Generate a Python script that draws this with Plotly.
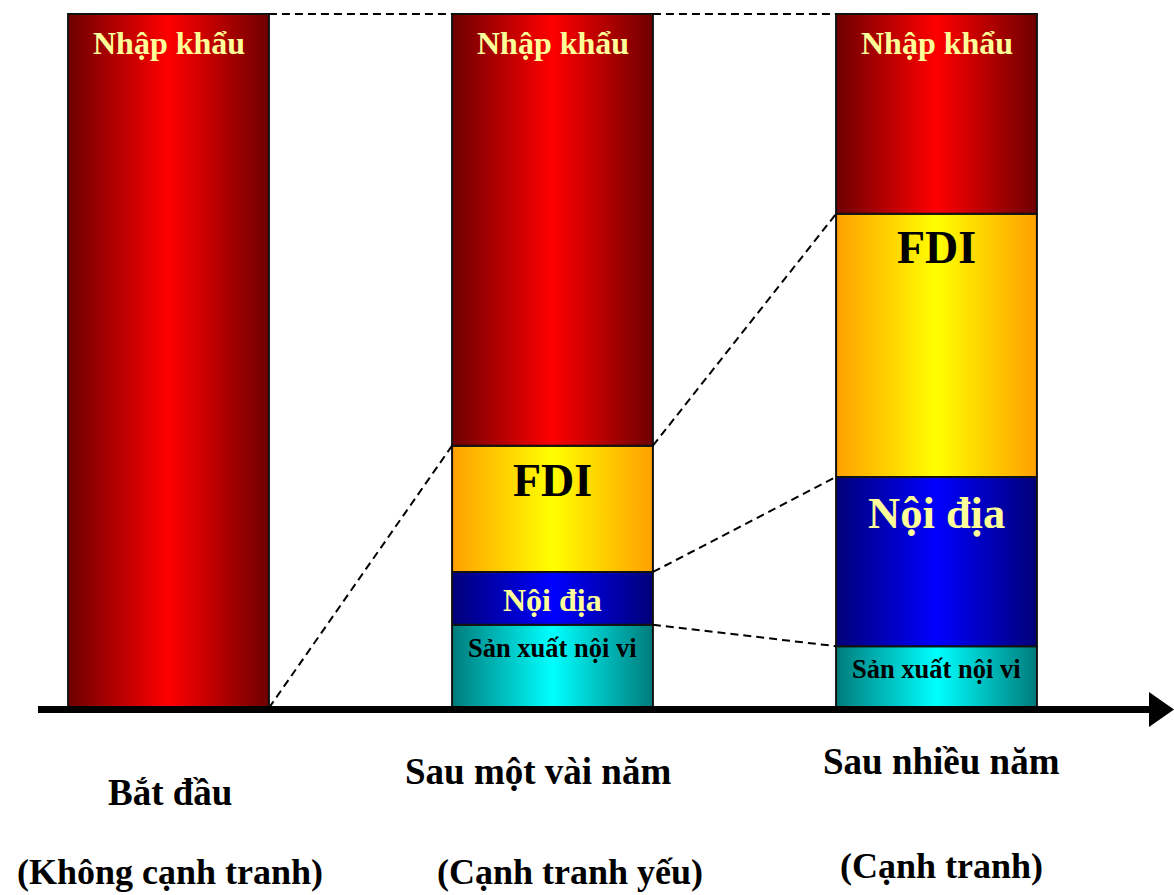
import plotly.graph_objects as go

# ---------------- data ----------------
stages = ["Bắt đầu", "Sau một vài năm", "Sau nhiều năm"]
stage_notes = ["(Không cạnh tranh)", "(Cạnh tranh yếu)", "(Cạnh tranh)"]
segments = ["Sản xuất nội vi", "Nội địa", "FDI", "Nhập khẩu"]
san_xuat_noi_vi = [0, 12.0, 8.9]
noi_dia = [0, 7.6, 24.4]
fdi = [0, 18.2, 37.9]
nhap_khau = [100, 62.2, 28.8]

series = [san_xuat_noi_vi, noi_dia, fdi, nhap_khau]

# ---------------- styles ----------------
W, H = 1174, 895
x_origin_px, x_unit_px = 168.5, 384.0
y_base_px, y_unit_px = 708.0, 6.94
bar_width = 0.523

seg_style = {
    "Sản xuất nội vi": dict(scale=[[0, "#007b7b"], [0.5, "#00ffff"], [1, "#007b7b"]],
                           color="#000000", size=26.5, offset=23),
    "Nội địa": dict(scale=[[0, "#000078"], [0.5, "#0000ff"], [1, "#000078"]],
                    color="#ffff99", size=[0, 32, 44.5], offset=[0, 28, 36]),
    "FDI": dict(scale=[[0, "#ffa000"], [0.5, "#ffff00"], [1, "#ffa000"]],
                color="#000000", size=46, offset=[0, 35, 34]),
    "Nhập khẩu": dict(scale=[[0, "#6e0000"], [0.5, "#ff0000"], [1, "#6e0000"]],
                      color="#ffff99", size=32, offset=29),
}

def pick(v, i):
    return v[i] if isinstance(v, list) else v

fig = go.Figure()
annotations = []

# ---------------- bars (gradient-filled stacked segments) ----------------
cum_tops = []
for i, stage in enumerate(stages):
    base = 0.0
    tops = []
    for s, name in enumerate(segments):
        v = series[s][i]
        top = base + v
        tops.append(top)
        if v > 0:
            x0, x1 = i - bar_width / 2, i + bar_width / 2
            st = seg_style[name]
            fig.add_trace(go.Scatter(
                x=[x0, x1, x1, x0, x0], y=[base, base, top, top, base],
                mode="lines", fill="toself",
                fillgradient=dict(type="horizontal", colorscale=st["scale"]),
                line=dict(color="#111111", width=2),
                hoverinfo="skip", showlegend=False,
            ))
            annotations.append(dict(
                x=i, y=top, xref="x", yref="y", text=f"<b>{name}</b>",
                showarrow=False, yanchor="middle",
                yshift=-pick(st["offset"], i),
                font=dict(family="Liberation Serif", size=pick(st["size"], i),
                          color=st["color"]),
            ))
        base = top
    cum_tops.append(tops)

# ---------------- dashed connectors ----------------
connector_levels = {(0, 1): [2, 3], (1, 2): [0, 1, 2, 3]}
for (a, b), levels in connector_levels.items():
    for k in levels:
        fig.add_trace(go.Scatter(
            x=[a + bar_width / 2, b - bar_width / 2],
            y=[cum_tops[a][k], cum_tops[b][k]],
            mode="lines", line=dict(color="#000000", width=2, dash="8px,5px"),
            hoverinfo="skip", showlegend=False,
        ))

# ---------------- axis with arrow ----------------
def px_x(p):
    return p / W

def px_y(p):
    return 1 - p / H

shapes = [
    dict(type="line", xref="paper", yref="paper",
         x0=px_x(38), x1=px_x(1152), y0=px_y(709.5), y1=px_y(709.5),
         line=dict(color="#000000", width=7)),
    dict(type="path", xref="paper", yref="paper",
         path=f"M {px_x(1149)},{px_y(692)} L {px_x(1174)},{px_y(709.5)} "
              f"L {px_x(1149)},{px_y(727)} Z",
         fillcolor="#000000", line=dict(color="#000000", width=0)),
]

# ---------------- category labels ----------------
label_y = [792, 771, 761]
note_y = [872, 872, 866]
label_dx = [1, -15, 5]
note_dx = [1, 17, 5]
for i in range(len(stages)):
    annotations.append(dict(
        x=i, y=px_y(label_y[i]), xref="x", yref="paper", xshift=label_dx[i],
        text=f"<b>{stages[i]}</b>", showarrow=False, yanchor="middle",
        font=dict(family="Liberation Serif", size=37, color="#000000")))
    annotations.append(dict(
        x=i, y=px_y(note_y[i]), xref="x", yref="paper", xshift=note_dx[i],
        text=f"<b>{stage_notes[i]}</b>", showarrow=False, yanchor="middle",
        font=dict(family="Liberation Serif", size=36, color="#000000")))

fig.update_layout(
    width=W, height=H,
    margin=dict(l=0, r=0, t=0, b=0),
    paper_bgcolor="#ffffff", plot_bgcolor="#ffffff",
    xaxis=dict(range=[-x_origin_px / x_unit_px, (W - x_origin_px) / x_unit_px],
               visible=False, fixedrange=True),
    yaxis=dict(range=[-(H - y_base_px) / y_unit_px, y_base_px / y_unit_px],
               visible=False, fixedrange=True),
    shapes=shapes,
    annotations=annotations,
    showlegend=False,
)

fig.write_html("out.html", config={"displayModeBar": False})
